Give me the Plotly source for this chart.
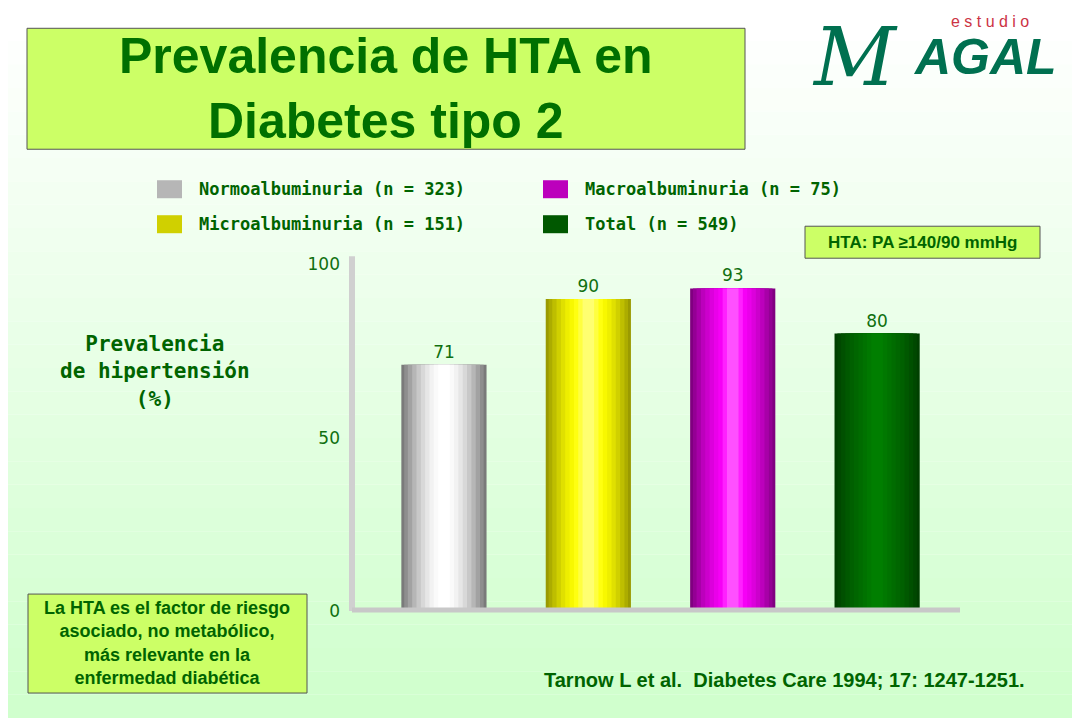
import plotly.graph_objects as go

categories = ["Normoalbuminuria (n = 323)", "Microalbuminuria (n = 151)",
              "Macroalbuminuria (n = 75)", "Total (n = 549)"]
values = [71, 90, 93, 80]
tick_vals = [0, 50, 100]

# gradient ramps per bar: edge colour -> centre highlight
ramps = [
    ["#7a7a7a", "#8e8e8e", "#a2a2a2", "#b6b6b6", "#c8c8c8", "#d8d8d8", "#e6e6e6", "#f2f2f2", "#fafafa", "#ffffff"],
    ["#9a9a00", "#acac00", "#bebe00", "#d0d000", "#e0e000", "#eeee00", "#f8f800", "#ffff10", "#ffff40", "#ffff70"],
    ["#800080", "#940094", "#a800a8", "#bc00bc", "#cc00cc", "#dc00dc", "#ea00ea", "#f600f6", "#ff20ff", "#ff50ff"],
    ["#004000", "#004800", "#005000", "#005800", "#006000", "#006600", "#006c00", "#007200", "#007800", "#007e00"],
]
widths = [0.59, 0.55, 0.5, 0.44, 0.38, 0.32, 0.26, 0.2, 0.14, 0.08]

fig = go.Figure()
xs = list(range(len(categories)))
for layer, w in enumerate(widths):
    fig.add_trace(go.Bar(
        x=xs, y=values, width=w,
        marker=dict(color=[r[layer] for r in ramps], line=dict(width=0)),
        text=[str(v) for v in values] if layer == 0 else None,
        textposition="outside", cliponaxis=False,
        textfont=dict(family="DejaVu Sans", size=17, color="#107010"),
        hoverinfo="skip", showlegend=False))

# map reference pixel positions to paper coords (compensates page offset)
def py(p):
    return 1 - ((p - 16.7) / 0.9726) / 720

def px(p):
    return (p - 8) / 1080

# background gradient white -> light green
shapes = []
n = 30
for i in range(n):
    t = i / (n - 1)
    r = int(255 - (255 - 208) * t)
    b = int(255 - (255 - 205) * t)
    shapes.append(dict(type="rect", xref="paper", yref="paper", x0=0, x1=1,
                       y0=1 - (i + 1) / n, y1=1 - i / n, line=dict(width=0),
                       fillcolor=f"rgb({r},255,{b})", layer="below"))

def box(x0, y0, x1, y1):
    shapes.append(dict(type="rect", xref="paper", yref="paper", x0=px(x0), x1=px(x1),
                       y0=py(y1), y1=py(y0), fillcolor="#ccff66",
                       line=dict(color="#555555", width=1)))

box(27, 27, 745, 148)     # title
box(805, 225, 1040, 257)  # HTA
box(28, 593, 307, 692)    # note
# axis wall and floor
shapes.append(dict(type="line", xref="paper", yref="paper", x0=px(352), x1=px(352),
                   y0=py(610), y1=py(255), line=dict(color="#d0d0d0", width=6)))
shapes.append(dict(type="line", xref="paper", yref="paper", x0=px(352), x1=px(960),
                   y0=py(609), y1=py(609), line=dict(color="#c8c8c8", width=5)))

annotations = []

def note(x, y, text, family, size, color, xanchor="center"):
    annotations.append(dict(x=px(x), y=py(y), xref="paper", yref="paper", showarrow=False,
                            text=text, xanchor=xanchor, yanchor="middle",
                            font=dict(family=family, size=size, color=color)))

# legend
leg_pos = [(157, 188), (157, 223), (543, 188), (543, 223)]
for (lx, ly), label, ramp in zip(leg_pos, categories, ramps):
    shapes.append(dict(type="rect", xref="paper", yref="paper",
                       x0=px(lx), x1=px(lx + 25), y0=py(ly + 9), y1=py(ly - 9),
                       fillcolor=ramp[3], line=dict(width=0)))
    note(lx + 40, ly, "<b>" + label + "</b>", "DejaVu Sans Mono", 17, "#006400", "left")

note(386, 87, "<b>Prevalencia de HTA en<br>Diabetes tipo 2</b>", "Liberation Sans", 50, "#007000")
note(155, 370, "<b>Prevalencia<br>de hipertensión<br>(%)</b>", "DejaVu Sans Mono", 21, "#006400")
note(922, 241, "<b>HTA: PA ≥140/90 mmHg</b>", "Liberation Sans", 17, "#006400")
note(167, 642, "<b>La HTA es el factor de riesgo<br>asociado, no metabólico,<br>más relevante en la<br>enfermedad diabética</b>",
     "Liberation Sans", 18, "#006400")
note(784, 679, "<b>Tarnow L et al.  Diabetes Care 1994; 17: 1247-1251.</b>", "Liberation Sans", 20, "#006400")
# logo
note(990, 20, "e s t u d i o", "Liberation Sans", 16, "#cc3344")
note(855, 56, "<i>M</i>", "DejaVu Serif", 80, "#007050")
note(985, 56, "<b><i>AGAL</i></b>", "Liberation Sans", 50, "#007050")

fig.update_layout(
    width=1080, height=720, margin=dict(l=0, r=0, t=0, b=0),
    paper_bgcolor="white", plot_bgcolor="rgba(0,0,0,0)",
    barmode="overlay", shapes=shapes, annotations=annotations,
    xaxis=dict(domain=[px(355), px(960)], range=[-0.616, 3.574],
               showticklabels=False, showgrid=False, zeroline=False),
    yaxis=dict(domain=[py(610), py(263)], range=[0, 100], tickvals=tick_vals,
               showgrid=False, zeroline=False, ticks="", ticklabelstandoff=14,
               tickfont=dict(family="DejaVu Sans", size=17, color="#107010")),
)

fig.write_html("out.html")
